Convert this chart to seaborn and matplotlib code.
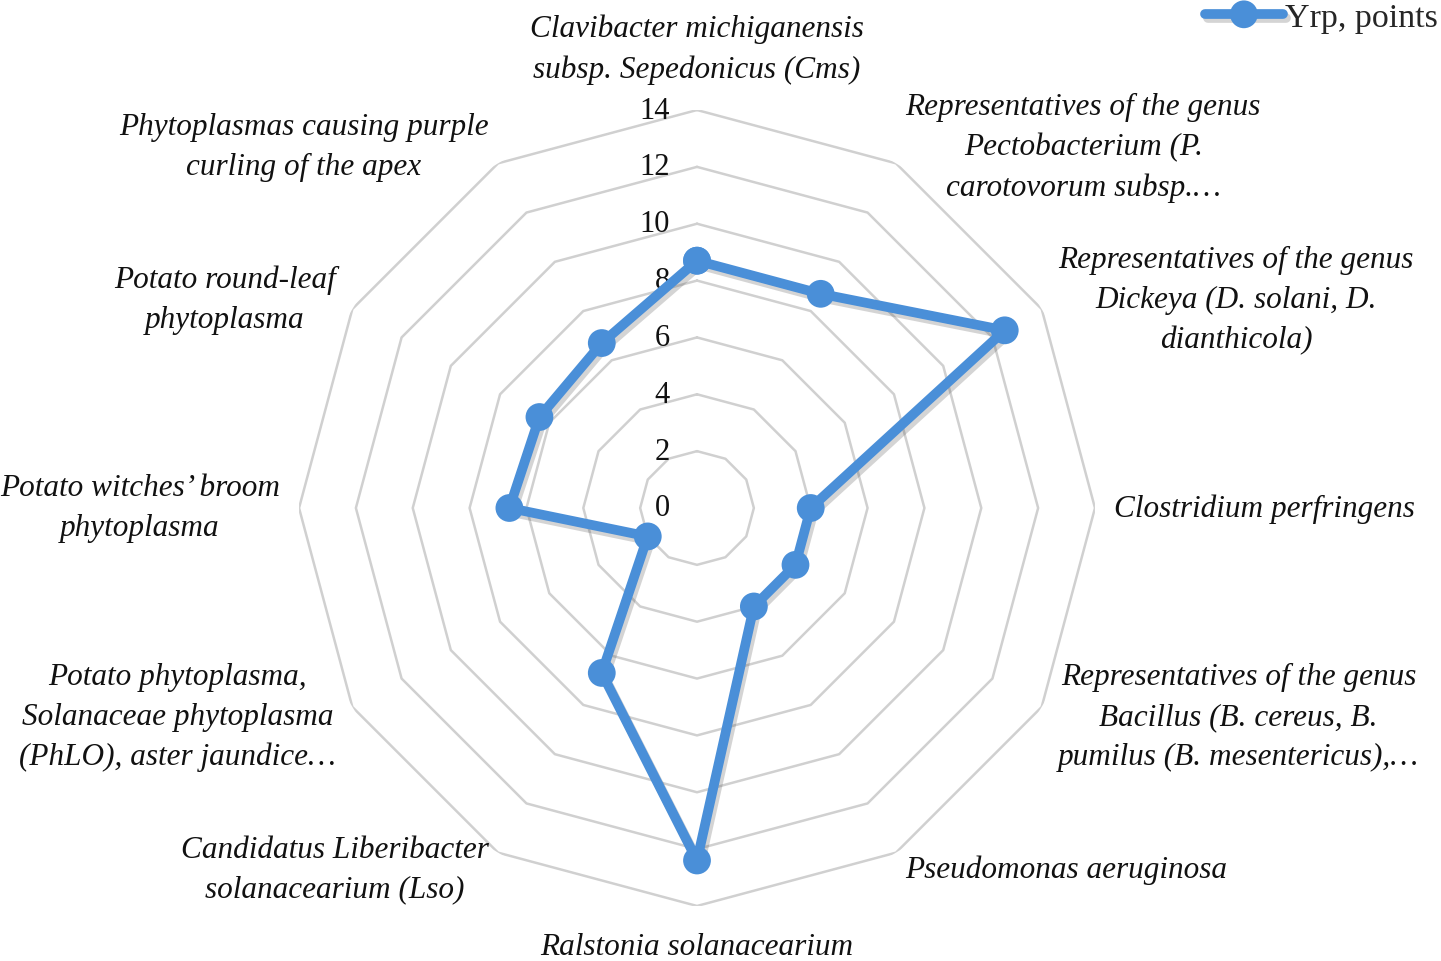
import numpy as np
import pandas as pd
import matplotlib
matplotlib.use("Agg")
import matplotlib.pyplot as plt
import matplotlib.patheffects as pe
import seaborn as sns

# -------------------------------
# Data
# -------------------------------
categories = [
    "Clavibacter michiganensis\nsubsp. Sepedonicus (Cms)",
    "Representatives of the genus\nPectobacterium (P.\ncarotovorum subsp.…",
    "Representatives of the genus\nDickeya (D. solani, D.\ndianthicola)",
    "Clostridium perfringens",
    "Representatives of the genus\nBacillus (B. cereus, B.\npumilus (B. mesentericus),…",
    "Pseudomonas aeruginosa",
    "Ralstonia solanacearium",
    "Candidatus Liberibacter\nsolanacearium (Lso)",
    "Potato phytoplasma,\nSolanaceae phytoplasma\n(PhLO), aster jaundice…",
    "Potato witches’ broom\nphytoplasma",
    "Potato round-leaf\nphytoplasma",
    "Phytoplasmas causing purple\ncurling of the apex",
]
yrp_points = [8.7, 8.7, 12.5, 4.0, 4.0, 4.0, 12.4, 6.7, 2.0, 6.6, 6.4, 6.7]
ring_values = [2, 4, 6, 8, 10, 12, 14]
tick_labels = ["0", "2", "4", "6", "8", "10", "12", "14"]
series_name = "Yrp, points"

blue = "#4A8FD8"
grid_grey = "#D0D0D0"

sns.set_style("white")
plt.rcParams["font.family"] = ["Liberation Serif", "DejaVu Serif"]

n = len(categories)
angles = np.linspace(0, 2 * np.pi, n, endpoint=False)
# close the loop with the first value at 2*pi (seaborn would merge a repeated x)
df = pd.DataFrame({"angle": np.append(angles, 2 * np.pi),
                   "value": yrp_points + yrp_points[:1]})

fig = plt.figure(figsize=(14.41, 9.62), dpi=100)
ax = fig.add_axes([0.2075, 0.0572, 0.5524, 0.8274], projection="polar")
ax.set_theta_zero_location("N")
ax.set_theta_direction(-1)
ax.set_ylim(0, 14)
ax.set_xticks([])
ax.set_yticks([])
ax.grid(False)
ax.spines["polar"].set_visible(False)

# polygon gridlines
closed = np.append(angles, 2 * np.pi)
for r in ring_values:
    ax.plot(closed, [r] * len(closed), color=grid_grey, lw=1.8, zorder=1)

# value tick labels along the vertical axis
for lab, r in zip(tick_labels, [0] + ring_values):
    ax.annotate(lab, xy=(0, r), xytext=(-27, 0), textcoords="offset pixels",
                ha="right", va="center", fontsize=22, color="#111111")

# series
sns.lineplot(data=df, x="angle", y="value", sort=False, estimator=None, ax=ax,
             color=blue, lw=7, marker="o", markersize=20, markeredgewidth=0,
             label=series_name, zorder=3,
             path_effects=[pe.SimpleLineShadow(offset=(2, -3), shadow_color="#555555", alpha=0.25),
                           pe.Normal()])
ax.get_legend().remove()
ax.set_xlabel("")
ax.set_ylabel("")

# category labels
for ang, lab in zip(angles, categories):
    s, c = np.sin(ang), np.cos(ang)
    if abs(s) < 1e-6:
        ha = "center"
        va = "bottom" if c > 0 else "top"
        off = 26
    else:
        ha = "left" if s > 0 else "right"
        va = "center"
        off = 19
    ax.annotate(lab, xy=(ang, 14), xytext=(off * s, off * c), textcoords="offset pixels",
                ha=ha, va=va, multialignment="center", fontsize=22.5, style="italic",
                linespacing=1.5, color="#111111")

fig.legend(handles=ax.get_lines()[-1:], labels=[series_name], loc="upper right",
           bbox_to_anchor=(1.0, 1.0), frameon=False, fontsize=24.5,
           handlelength=2.3, handletextpad=0.05, borderaxespad=0.0, borderpad=0.1)

fig.savefig("out.png", dpi=100)
